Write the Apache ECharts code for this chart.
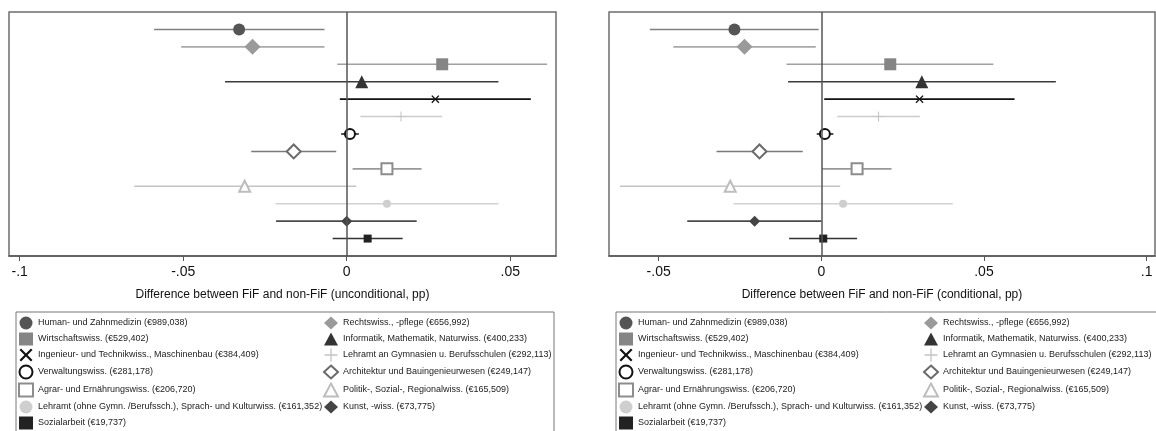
<!DOCTYPE html>
<html>
<head>
<meta charset="utf-8">
<script src="https://cdn.jsdelivr.net/npm/echarts@6/dist/echarts.min.js"></script>
<style>
html,body{margin:0;padding:0;background:#fff;}
#chart{width:1156px;height:431px;}
</style>
</head>
<body>
<div id="chart"></div>
<script>
// ---- data ----
const categories = [
  "Human- und Zahnmedizin (€989,038)",
  "Rechtswiss., -pflege (€656,992)",
  "Wirtschaftswiss. (€529,402)",
  "Informatik, Mathematik, Naturwiss. (€400,233)",
  "Ingenieur- und Technikwiss., Maschinenbau (€384,409)",
  "Lehramt an Gymnasien u. Berufsschulen (€292,113)",
  "Verwaltungswiss. (€281,178)",
  "Architektur und Bauingenieurwesen (€249,147)",
  "Agrar- und Ernährungswiss. (€206,720)",
  "Politik-, Sozial-, Regionalwiss. (€165,509)",
  "Lehramt (ohne Gymn. /Berufssch.), Sprach- und Kulturwiss. (€161,352)",
  "Kunst, -wiss. (€73,775)",
  "Sozialarbeit (€19,737)"
];
const rows = [1,2,3,4,5,6,7,8,9,10,11,12,13];
const uncondEst = [-0.0329,-0.0288, 0.0292, 0.0046, 0.0271, 0.0166, 0.0010,-0.0162, 0.0123,-0.0312, 0.0123, 0.0000, 0.0064];
const uncondLo  = [-0.0589,-0.0506,-0.0029,-0.0372,-0.0021, 0.0042,-0.0017,-0.0292, 0.0018,-0.0650,-0.0218,-0.0216,-0.0043];
const uncondHi  = [-0.0068,-0.0068, 0.0613, 0.0464, 0.0563, 0.0292, 0.0037,-0.0032, 0.0229, 0.0029, 0.0464, 0.0214, 0.0171];
const condEst   = [-0.0267,-0.0236, 0.0212, 0.0309, 0.0302, 0.0176, 0.0011,-0.0190, 0.0110,-0.0280, 0.0067,-0.0205, 0.0006];
const condLo    = [-0.0527,-0.0455,-0.0107,-0.0102, 0.0009, 0.0049,-0.0014,-0.0322, 0.0002,-0.0619,-0.0270,-0.0412,-0.0099];
const condHi    = [-0.0008,-0.0017, 0.0529, 0.0721, 0.0594, 0.0303, 0.0037,-0.0057, 0.0216, 0.0058, 0.0404, 0.0000, 0.0110];
const tickValues = [-0.1,-0.05,0,0.05,0.1];
const axisTitles = ["Difference between FiF and non-FiF (unconditional, pp)","Difference between FiF and non-FiF (conditional, pp)"];

// ---- styles ----
const XPATH = 'path://M0,1.2 L1.2,0 L5,3.8 L8.8,0 L10,1.2 L6.2,5 L10,8.8 L8.8,10 L5,6.2 L1.2,10 L0,8.8 L3.8,5 Z';
const PLUS = 'path://M4.5,0 H5.5 V4.5 H10 V5.5 H5.5 V10 H4.5 V5.5 H0 V4.5 H4.5 Z';
const styles = [
  {symbol:'circle', size:12, color:'#555555', bar:'#808080'},
  {symbol:'diamond', size:16, color:'#9a9a9a', bar:'#a8a8a8'},
  {symbol:'rect', size:12, color:'#858585', bar:'#a0a0a0'},
  {symbol:'triangle', size:13, color:'#333333', bar:'#3a3a3a'},
  {symbol:XPATH, size:8, color:'#111111', bar:'#111111'},
  {symbol:PLUS, size:10, color:'#c4c4c4', bar:'#cccccc'},
  {symbol:'emptyCircle', size:10, color:'#111111', bar:'#222222'},
  {symbol:'emptyDiamond', size:14, color:'#6a6a6a', bar:'#7a7a7a'},
  {symbol:'emptyRect', size:11, color:'#8c8c8c', bar:'#999999'},
  {symbol:'emptyTriangle', size:11, color:'#bdbdbd', bar:'#c4c4c4'},
  {symbol:'circle', size:8, color:'#cfcfcf', bar:'#d2d2d2'},
  {symbol:'diamond', size:11, color:'#444444', bar:'#4a4a4a'},
  {symbol:'rect', size:8, color:'#222222', bar:'#333333'}
];

const FONT = 'Liberation Sans, Arial, Helvetica, sans-serif';
const panels = [
  {est:uncondEst, lo:uncondLo, hi:uncondHi, left:9, width:547, min:-0.10327, max:0.0640, title:axisTitles[0]},
  {est:condEst, lo:condLo, hi:condHi, left:609, width:546, min:-0.06526, max:0.10258, title:axisTitles[1]}
];

const grid=[], xAxis=[], yAxis=[], series=[], legend=[], graphic=[];
panels.forEach((p, pi) => {
  grid.push({left:p.left, top:12, width:p.width, height:244, show:true, borderColor:'#6e6e6e', borderWidth:1.5, backgroundColor:'#fff'});
  xAxis.push({
    type:'value', gridIndex:pi, min:p.min, max:p.max,
    name:p.title, nameLocation:'middle', nameGap:33,
    nameTextStyle:{fontFamily:FONT, fontSize:12, color:'#111'},
    axisLine:{show:true, onZero:false, lineStyle:{color:'#555', width:1.5}},
    axisTick:{show:true, length:5, lineStyle:{color:'#555', width:1}, customValues:tickValues},
    axisLabel:{fontFamily:FONT, fontSize:14, color:'#111', margin:9, customValues:tickValues,
      formatter:v => { if (Math.abs(v) < 1e-9) return '0'; return String(+v.toFixed(3)).replace('0.', '.'); }},
    splitLine:{show:false}
  });
  yAxis.push({type:'value', gridIndex:pi, min:0, max:14, inverse:true, show:false});
  // error bars
  series.push({
    type:'custom', xAxisIndex:pi, yAxisIndex:pi, z:1, silent:true,
    data: rows.map((r,i)=>[p.lo[i], p.hi[i], r, i]),
    encode:{x:[0,1], y:2},
    renderItem:(params, api) => {
      const a = api.coord([api.value(0), api.value(2)]);
      const b = api.coord([api.value(1), api.value(2)]);
      return {type:'line', shape:{x1:a[0], y1:a[1], x2:b[0], y2:b[1]},
        style:{stroke:styles[api.value(3)].bar, lineWidth:1.6}};
    },
    markLine:{silent:true, symbol:'none', label:{show:false},
      lineStyle:{color:'#555', width:1.5, type:'solid'}, data:[{xAxis:0}]}
  });
  categories.forEach((name, i) => {
    const st = styles[i];
    const empty = st.symbol.indexOf('empty') === 0;
    series.push({
      type:'scatter', name:name, xAxisIndex:pi, yAxisIndex:pi, z:3,
      symbol:st.symbol, symbolSize:st.size,
      itemStyle: empty ? {color:st.color, borderColor:st.color, borderWidth:1.5, opacity:1} : {color:st.color, opacity:1},
      data:[[p.est[i], rows[i]]]
    });
  });
  // legend box and two legend columns
  const bx = p.left + 4.5;
  graphic.push({type:'rect', left:bx, top:309.5, shape:{width: pi===0 ? 538 : 560, height:120},
    style:{fill:'none', stroke:'#777', lineWidth:1}, z:-1});
  const col1 = categories.filter((c,i)=>i%2===0);
  const col2 = categories.filter((c,i)=>i%2===1);
  [col1, col2].forEach((col, ci) => {
    legend.push({
      data: col.map(n=>({name:n})), orient:'vertical',
      left: p.left + (ci===0 ? 9 : 314), top: 316.5,
      itemWidth:14, itemHeight:13, itemGap:3, selectedMode:false,
      textStyle:{fontFamily:FONT, fontSize:9, color:'#222'},
      padding:0
    });
  });
});

const chart = echarts.init(document.getElementById('chart'), null, {renderer:'canvas'});
chart.setOption({animation:false, backgroundColor:'#fff', grid, xAxis, yAxis, series, legend, graphic});
</script>
</body>
</html>
